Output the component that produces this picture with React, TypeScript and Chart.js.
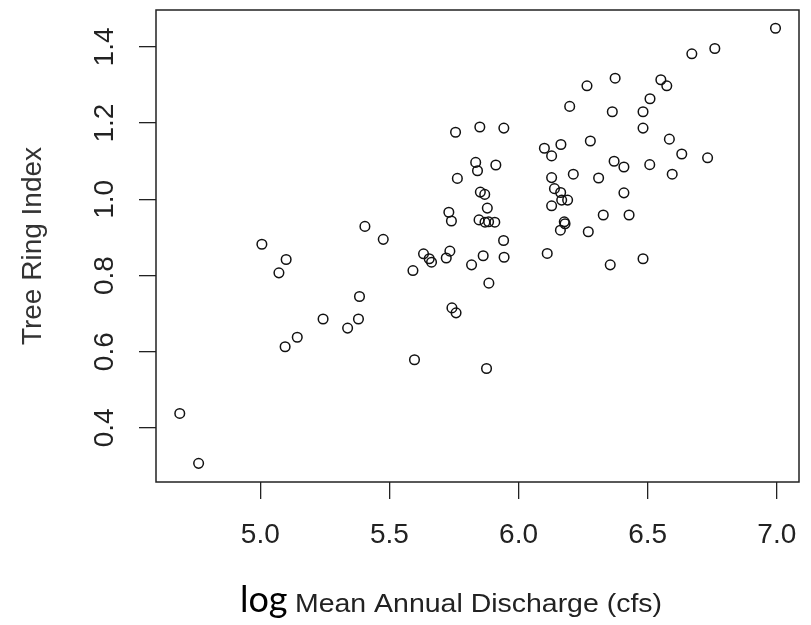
import React, { useEffect, useRef } from 'react';
import { Chart, registerables } from 'chart.js';

Chart.register(...registerables);

// log mean annual discharge (x) and tree ring index (y)
const discharge = [
  4.688, 4.761, 5.006, 5.072, 5.100, 5.096, 5.143, 5.243, 5.338, 5.380,
  5.384, 5.405, 5.476, 5.591, 5.597, 5.632, 5.654, 5.663, 5.720, 5.734,
  5.730, 5.740, 5.742, 5.758, 5.756, 5.763, 5.818, 5.834, 5.841, 5.850,
  5.852, 5.869, 5.847, 5.863, 5.870, 5.879, 5.876, 5.885, 5.908, 5.912,
  5.942, 5.944, 5.943, 6.100, 6.128, 6.128, 6.111, 6.128, 6.139, 6.164,
  6.163, 6.162, 6.177, 6.190, 6.180, 6.212, 6.198, 6.265, 6.278, 6.270,
  6.310, 6.328, 6.374, 6.363, 6.370, 6.355, 6.408, 6.408, 6.428, 6.482,
  6.482, 6.482, 6.509, 6.508, 6.551, 6.574, 6.584, 6.595, 6.632, 6.671,
  6.760, 6.732, 6.995, 5.884, 6.167,
];
const ringIndex = [
  0.438, 0.307, 0.882, 0.807, 0.842, 0.613, 0.638, 0.686, 0.662, 0.686,
  0.745, 0.929, 0.895, 0.813, 0.579, 0.857, 0.844, 0.835, 0.846, 0.864,
  0.966, 0.943, 0.715, 0.702, 1.176, 1.055, 0.828, 1.097, 1.075, 1.190,
  1.019, 1.013, 0.946, 0.852, 0.940, 0.977, 0.556, 0.780, 0.940, 1.090,
  0.892, 0.848, 1.187, 1.134, 1.114, 1.057, 0.858, 0.983, 1.028, 1.144,
  1.018, 0.919, 0.941, 0.998, 0.936, 1.066, 1.244, 1.298, 1.153, 0.915,
  1.056, 0.959, 1.318, 1.230, 1.100, 0.828, 1.085, 1.017, 0.959, 1.230,
  1.187, 0.844, 1.264, 1.091, 1.314, 1.298, 1.158, 1.066, 1.119, 1.382,
  1.396, 1.109, 1.449, 0.941, 0.998,
];

const xTicks = [5.0, 5.5, 6.0, 6.5, 7.0];
const yTicks = [0.4, 0.6, 0.8, 1.0, 1.2, 1.4];
const xRange = [4.596, 7.086];
const yRange = [0.258, 1.497];

const yTitle = 'Tree Ring Index';
const xTitleLog = 'log';
const xTitleRest = 'Mean Annual Discharge (cfs)';

const SANS = '"Liberation Sans", Arial, sans-serif';

const boxPlugin = {
  id: 'plotBox',
  afterDraw(chart: any) {
    const { ctx, chartArea: a } = chart;
    ctx.save();
    ctx.strokeStyle = '#222';
    ctx.lineWidth = 1.5;
    ctx.strokeRect(a.left, a.top, a.right - a.left, a.bottom - a.top);
    ctx.restore();
  },
};

const xTitlePlugin = {
  id: 'xTitle',
  afterDraw(chart: any) {
    const { ctx } = chart;
    const baseline = 612;
    ctx.save();
    ctx.textBaseline = 'alphabetic';
    ctx.textAlign = 'left';
    ctx.fillStyle = '#000';
    ctx.font = '36px Lato, "Open Sans", sans-serif';
    ctx.fillText(xTitleLog, 240, baseline);
    ctx.font = '25px ' + SANS;
    ctx.fillStyle = '#222';
    const w = ctx.measureText(xTitleRest).width;
    const target = 367;
    ctx.translate(295, baseline);
    ctx.scale(target / w, 1);
    ctx.fillText(xTitleRest, 0, 0);
    ctx.restore();
  },
};

export default function App() {
  const ref = useRef<HTMLCanvasElement>(null);

  useEffect(() => {
    if (!ref.current) return;
    const points = discharge.map((x, i) => ({ x, y: ringIndex[i] }));
    const tickGrid = {
      display: true,
      drawOnChartArea: false,
      drawTicks: true,
      tickLength: 17,
      color: '#222',
      lineWidth: 1.3,
    };
    const chart = new Chart(ref.current, {
      type: 'scatter',
      data: {
        datasets: [
          {
            data: points,
            pointStyle: 'circle',
            pointRadius: 4.8,
            pointHoverRadius: 4.8,
            pointBorderWidth: 1.5,
            borderColor: '#111',
            backgroundColor: 'rgba(0,0,0,0)',
            pointBackgroundColor: 'rgba(0,0,0,0)',
            pointBorderColor: '#111',
          },
        ],
      },
      options: {
        animation: false,
        responsive: true,
        maintainAspectRatio: false,
        layout: { padding: { left: 0, top: 10, right: 12, bottom: 0 } },
        plugins: { legend: { display: false }, tooltip: { enabled: false } },
        scales: {
          x: {
            type: 'linear',
            min: xRange[0],
            max: xRange[1],
            afterBuildTicks: (s: any) => {
              s.ticks = xTicks.map((v) => ({ value: v }));
            },
            afterFit: (s: any) => {
              s.height = 143;
              s.paddingLeft = 0;
              s.paddingRight = 0;
            },
            ticks: {
              callback: (v: any) => Number(v).toFixed(1),
              font: { family: SANS, size: 28 },
              color: '#222',
              padding: 19,
              minRotation: 0,
              maxRotation: 0,
              autoSkip: false,
            },
            grid: tickGrid,
            border: { display: false },
          },
          y: {
            type: 'linear',
            min: yRange[0],
            max: yRange[1],
            afterBuildTicks: (s: any) => {
              s.ticks = yTicks.map((v) => ({ value: v }));
            },
            afterFit: (s: any) => {
              s.width = 156;
              s.paddingTop = 0;
              s.paddingBottom = 0;
            },
            ticks: {
              callback: (v: any) => Number(v).toFixed(1),
              font: { family: SANS, size: 28 },
              color: '#222',
              padding: 14.5,
              minRotation: 90,
              maxRotation: 90,
              crossAlign: 'center',
              autoSkip: false,
            },
            grid: tickGrid,
            border: { display: false },
            title: {
              display: true,
              text: yTitle,
              font: { family: SANS, size: 28 },
              color: '#333',
              padding: { top: 16, bottom: 0 },
            },
          },
        },
      },
      plugins: [boxPlugin, xTitlePlugin],
    } as any);
    return () => chart.destroy();
  }, []);

  return (
    <div style={{ position: 'absolute', left: 0, top: 0, width: 811, height: 625, background: '#fff' }}>
      <canvas ref={ref} />
    </div>
  );
}
